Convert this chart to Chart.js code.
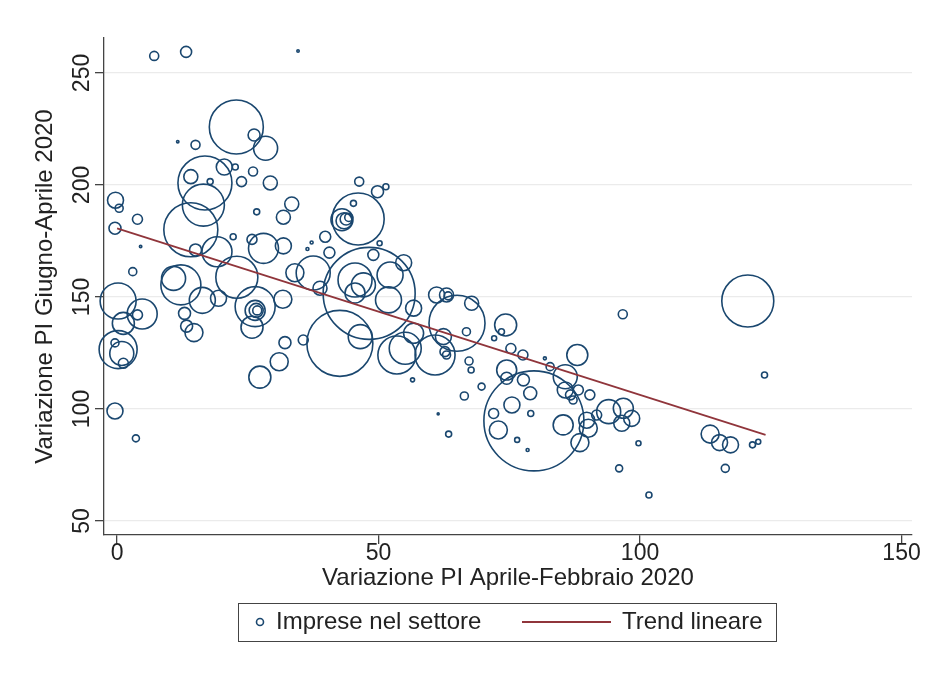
<!DOCTYPE html>
<html>
<head>
<meta charset="utf-8">
<script src="https://cdn.jsdelivr.net/npm/chart.js@4.4.1/dist/chart.umd.min.js"></script>
<style>
  html, body { margin: 0; padding: 0; background: #fff; }
  canvas { display: block; }
</style>
</head>
<body>
<canvas id="grafico" width="926" height="677"></canvas>
<script>
// ---- dati ----
// variazione PI aprile-febbraio (asse x)
const bubX = [
  7.1, 13.2, 34.6, 22.8, 26.2, 28.4, 11.6, 15.0, 16.8, 14.1, 17.8, 20.5, 22.6, 26.0, 23.8, 29.3,
  -0.3, 0.4, -0.4, 3.9, 4.5, 3.0, 16.5, 14.1, 15.0, 19.1, 22.2, 26.7, 33.4, 31.8, 25.8, 28.0, 31.8,
  12.2, 10.8, 16.3, 19.4, 22.9, 26.4, 26.4, 26.6, 26.8, 25.8, 31.7, 34.0, 37.5,
  0.2, 4.8, 1.2, 3.9, 0.2, 0.9, -0.4, 1.2, 12.9, 13.3, 14.7, 32.1, 35.6, 27.3, 31.0, -0.4, 3.6,
  46.1, 43.0, 43.4, 43.8, 44.3, 45.2, 46.3, 49.8, 51.4, 39.8, 37.2, 36.4, 40.6, 50.2, 49.0,
  48.2, 54.8, 52.2, 45.5, 47.1, 45.5, 38.8, 51.9, 56.7, 61.1, 63.0, 63.3, 67.8, 65.0,
  56.7, 62.4, 66.8, 62.7, 42.6, 46.5, 53.5, 55.1, 60.8, 56.5, 63.0, 66.4, 69.7, 61.4, 63.4,
  67.3, 67.7,
  74.3, 73.5, 72.1, 96.7, 75.3, 77.6, 81.8, 82.8, 88.0, 74.5, 74.5, 77.7, 79.0, 79.7,
  85.7, 85.7, 86.7, 88.2, 90.4, 87.2, 75.5, 72.0, 79.1, 94.0, 96.8, 98.4, 96.5, 91.7,
  89.8, 90.1, 85.3, 72.9, 88.5, 76.5, 78.5, 99.7, 96.0, 101.7,
  120.6, 123.8, 113.4, 115.2, 117.3, 116.3, 121.5, 122.6
];
// variazione PI giugno-aprile (asse y)
const bubY = [
  257.6, 259.4, 259.8, 225.9, 222.3, 216.4, 219.3, 217.9, 200.9, 203.7, 201.5, 208.0, 208.0, 206.0, 201.5, 200.9,
  193.2, 189.6, 180.7, 184.7, 172.5, 161.3, 191.0, 180.0, 171.0, 170.2, 176.9, 188.0, 191.5, 185.6, 175.7, 171.7, 172.8,
  155.4, 158.3, 148.5, 149.4, 158.8, 145.7, 144.0, 144.0, 144.0, 136.5, 149.0, 160.8, 160.7,
  148.2, 142.4, 138.2, 142.0, 126.5, 124.8, 129.5, 120.4, 142.7, 137.0, 134.1, 129.6, 130.8, 114.2, 121.1, 99.1, 86.9,
  184.8, 184.5, 184.0, 184.8, 185.5, 191.8, 201.5, 197.0, 199.2, 176.9, 174.3, 171.4, 169.8, 174.0, 168.8,
  151.6, 165.3, 159.8, 157.6, 155.4, 151.8, 153.9, 148.7, 145.0, 150.9, 150.9, 150.5, 147.2, 138.3,
  133.8, 132.3, 134.5, 125.6, 129.3, 132.3, 124.1, 127.1, 124.1, 113.0, 124.1, 105.8, 110.0, 97.8, 88.8,
  121.4, 117.4,
  137.5, 134.5, 131.6, 142.3, 127.0, 124.1, 122.6, 118.9, 124.1, 117.4, 113.7, 113.0, 107.0, 94.7,
  114.4, 108.5, 106.3, 108.5, 106.3, 104.0, 101.8, 98.0, 98.0, 98.8, 100.3, 95.8, 93.6, 97.3,
  95.0, 91.4, 92.9, 90.6, 85.0, 86.2, 81.7, 84.7, 73.5, 61.6,
  148.2, 115.2, 88.8, 85.0, 84.0, 73.5, 84.0, 85.4
];
// dimensione della bolla (numero di imprese, in raggio)
const bubR = [
  4.5, 5.5, 1.2, 27, 6, 12, 1.2, 4.5, 27, 7, 3, 8, 3, 4.5, 5, 7,
  8, 4, 6, 5, 1.2, 4, 21, 27, 6, 15, 3, 3, 7, 7, 5, 15, 8,
  20, 12, 13, 8, 21, 20, 10, 7, 4.5, 11, 9, 9, 17,
  18, 15, 11, 5, 19, 12, 4, 5, 6, 6, 9, 6, 5, 11, 9, 8, 3.5,
  26, 11, 8, 6, 4, 3, 4.5, 6, 3, 5.5, 1.5, 1.5, 5.5, 2.5, 5.5,
  46, 8, 13, 17, 12, 10, 7, 13, 8, 8, 7, 4, 7, 28,
  10, 8, 4, 5, 33, 12, 19, 16, 20, 2, 4, 4, 3.5, 1, 3,
  4, 3,
  11, 3, 2.5, 4.5, 5, 5, 1.5, 4, 10.5, 10, 6, 6, 6.5, 50,
  12, 8, 5, 5, 5, 4, 8, 5, 3, 12, 10, 8, 8, 5,
  8, 9, 10, 9, 9, 2.5, 1.5, 2.5, 3.5, 3,
  26, 3, 9, 8, 8, 4, 3, 2.5
];
// trend lineare (estremi)
const trendX = [0, 124];
const trendY = [180.6, 88.4];

const xTicks = [0, 50, 100, 150];
const yTicks = [50, 100, 150, 200, 250];

const titoloX = 'Variazione PI Aprile-Febbraio 2020';
const titoloY = 'Variazione PI Giugno-Aprile 2020';
const legendaBolle = 'Imprese nel settore';
const legendaTrend = 'Trend lineare';

const BLU = '#1a476f';
const ROSSO = '#90353b';
const FONT_TICK = '23px "Liberation Sans", Arial, sans-serif';
const FONT_TESTO = '24px "Liberation Sans", Arial, sans-serif';

// le bolle grandi non devono restringere l'area del grafico
Chart.BubbleController.prototype.getMaxOverflow = function () { return 0; };

// ---- testi, etichette e legenda disegnati a mano ----
const testiPlugin = {
  id: 'testi',
  afterDraw(chart) {
    const ctx = chart.ctx;
    const sx = chart.scales.x, sy = chart.scales.y;
    const area = chart.chartArea;
    ctx.save();
    ctx.fillStyle = '#222';
    ctx.font = FONT_TICK;

    // etichette asse x
    ctx.textAlign = 'center';
    ctx.textBaseline = 'middle';
    xTicks.forEach(v => ctx.fillText(String(v), sx.getPixelForValue(v), area.bottom + 19));

    // etichette asse y (ruotate)
    yTicks.forEach(v => {
      ctx.save();
      ctx.translate(area.left - 21, sy.getPixelForValue(v));
      ctx.rotate(-Math.PI / 2);
      ctx.fillText(String(v), 0, 0);
      ctx.restore();
    });

    // titoli
    ctx.font = FONT_TESTO;
    ctx.fillText(titoloX, (area.left + area.right) / 2, area.bottom + 43);
    ctx.save();
    ctx.translate(45, (area.top + area.bottom) / 2);
    ctx.rotate(-Math.PI / 2);
    ctx.fillText(titoloY, 0, 0);
    ctx.restore();

    // legenda
    const lx = 238, ly = 603, lw = 538, lh = 38, cy = ly + lh / 2;
    ctx.strokeStyle = '#444';
    ctx.lineWidth = 1;
    ctx.strokeRect(lx + 0.5, ly + 0.5, lw, lh);
    ctx.strokeStyle = BLU;
    ctx.lineWidth = 1.6;
    ctx.beginPath();
    ctx.arc(260, cy, 3.5, 0, Math.PI * 2);
    ctx.stroke();
    ctx.textAlign = 'left';
    ctx.fillText(legendaBolle, 276, cy);
    ctx.strokeStyle = ROSSO;
    ctx.lineWidth = 1.8;
    ctx.beginPath();
    ctx.moveTo(522, cy);
    ctx.lineTo(611, cy);
    ctx.stroke();
    ctx.fillText(legendaTrend, 622, cy);
    ctx.restore();
  }
};

const ctx = document.getElementById('grafico').getContext('2d');
new Chart(ctx, {
  type: 'bubble',
  data: {
    datasets: [
      {
        type: 'line',
        label: legendaTrend,
        data: trendX.map((x, i) => ({ x, y: trendY[i] })),
        borderColor: ROSSO,
        borderWidth: 1.8,
        pointRadius: 0,
        fill: false
      },
      {
        label: legendaBolle,
        data: bubX.map((x, i) => ({ x, y: bubY[i], r: bubR[i] })),
        borderColor: BLU,
        backgroundColor: 'rgba(0,0,0,0)',
        borderWidth: 1.6,
        clip: false
      }
    ]
  },
  options: {
    responsive: false,
    animation: false,
    devicePixelRatio: 1,
    layout: { padding: { left: 95, top: 38, right: 14, bottom: 133 } },
    plugins: { legend: { display: false }, tooltip: { enabled: false } },
    scales: {
      x: {
        type: 'linear',
        min: -2.5,
        max: 152,
        afterBuildTicks: s => { s.ticks = xTicks.map(v => ({ value: v })); },
        ticks: { display: false },
        grid: { drawOnChartArea: false, tickLength: 9, tickColor: '#444', lineWidth: 1.3 },
        border: { color: '#444', width: 1.3 }
      },
      y: {
        type: 'linear',
        min: 43.75,
        max: 265.6,
        afterBuildTicks: s => { s.ticks = yTicks.map(v => ({ value: v })); },
        ticks: { display: false },
        grid: { color: '#ebebeb', lineWidth: 1.3, tickLength: 9, tickColor: '#444' },
        border: { color: '#444', width: 1.3 }
      }
    }
  },
  plugins: [testiPlugin]
});
</script>
</body>
</html>
